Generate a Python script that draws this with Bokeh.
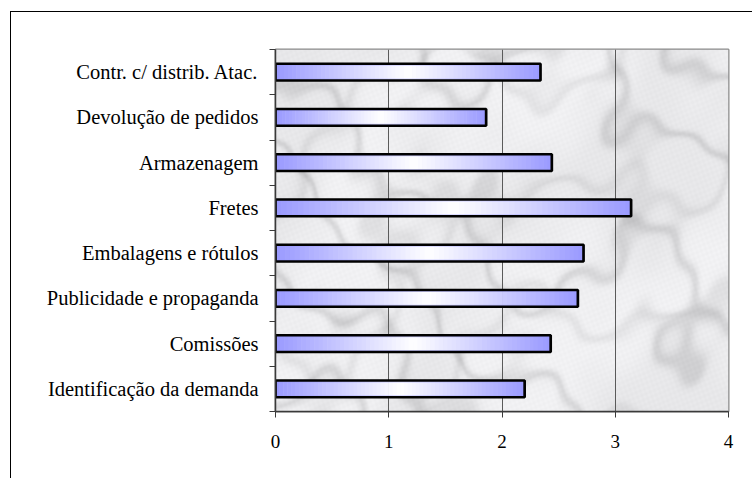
import numpy as np
from bokeh.plotting import figure
from bokeh.models import FixedTicker, Range1d, ColumnDataSource
from bokeh.embed import file_html
from bokeh.resources import INLINE

# Cost categories, listed bottom to top
categories = [
    "Identificação da demanda",
    "Comissões",
    "Publicidade e propaganda",
    "Embalagens e rótulos",
    "Fretes",
    "Armazenagem",
    "Devolução de pedidos",
    "Contr. c/ distrib. Atac.",
]
values = [2.20, 2.43, 2.67, 2.72, 3.14, 2.44, 1.86, 2.34]
x_ticks = [0, 1, 2, 3, 4]

FONT = "Liberation Serif"
BAR_H = 0.37
LAVENDER = (153, 153, 255)
N_SLICES = 64
X_MAX = 4
N_CAT = len(categories)

p = figure(
    width=742, height=467,
    x_range=Range1d(0, X_MAX), y_range=Range1d(0, N_CAT),
    output_backend="svg", toolbar_location=None,
    min_border_left=264, min_border_right=25,
    min_border_top=37, min_border_bottom=68,
)
# the chart sits inside a thin black frame
p.styles = {"margin-left": "11px", "margin-top": "12px",
            "outline": "1.5px solid black"}
p.background_fill_color = "#ececec"
p.border_fill_color = "white"
p.outline_line_color = "#8a8a8a"
p.outline_line_width = 2

# marble-like backdrop for the plotting area (smooth, deterministic veining)
W, H = 453, 362
gx, gy = np.meshgrid(np.arange(W, dtype=float), np.arange(H, dtype=float))
turb = (np.sin(gx * 0.013 - gy * 0.009 + 0.7) * 0.9
        + np.sin(gx * 0.029 + gy * 0.021 + 2.1) * 0.5
        + np.sin(gx * 0.061 - gy * 0.047 + 4.0) * 0.25
        + np.sin(gx * 0.11 + gy * 0.09 + 1.3) * 0.12)
phase = gx * 0.016 - gy * 0.024 + 1.6 * turb
streak = np.exp(-(np.sin(phase) / 0.28) ** 2)
phase2 = gx * 0.009 + gy * 0.019 + 1.1 * turb + 1.0
streak2 = np.exp(-(np.sin(phase2) / 0.22) ** 2)
blotch = 0.5 + 0.5 * np.sin(gx * 0.02 + gy * 0.015 + 1.5 * turb)
grain = (np.sin(gx * 0.9 + gy * 0.37) * np.sin(gx * 0.41 - gy * 0.83)) * 3
shade = 242 - 24 * streak - 14 * streak2 - 10 * blotch + grain
shade = np.clip(shade, 170, 246).astype(np.uint8)
img = np.empty((H, W), dtype=np.uint32)
view = img.view(dtype=np.uint8).reshape((H, W, 4))
view[:, :, 0] = shade
view[:, :, 1] = shade
view[:, :, 2] = np.clip(shade.astype(int) + 2, 0, 255).astype(np.uint8)
view[:, :, 3] = 255
p.image_rgba(image=[img[::-1]], x=0, y=0, dw=X_MAX, dh=N_CAT, level="image")

# vertical grid only
p.ygrid.visible = False
p.xgrid.ticker = FixedTicker(ticks=x_ticks)
p.xgrid.grid_line_color = "#5a5a5a"
p.xgrid.grid_line_width = 1
p.xgrid.level = "underlay"

# horizontal gradient inside each bar: lavender at the ends, white in the middle
lefts, rights, bottoms, tops, colors = [], [], [], [], []
for i, v in enumerate(values):
    yc = i + 0.5
    for k in range(N_SLICES):
        f0 = k / N_SLICES
        f1 = (k + 1) / N_SLICES
        fm = (f0 + f1) / 2
        t = abs(fm - 0.5) * 2
        r, g, b = (round(255 + (c - 255) * t) for c in LAVENDER)
        lefts.append(v * f0)
        rights.append(v * f1 + v * 0.002)
        bottoms.append(yc - BAR_H / 2)
        tops.append(yc + BAR_H / 2)
        colors.append("#%02x%02x%02x" % (r, g, b))

p.quad(left=lefts, right=rights, bottom=bottoms, top=tops,
       fill_color=colors, line_color=None)

src = ColumnDataSource(dict(y=[i + 0.5 for i in range(N_CAT)], right=values))
# faint lavender edge just inside the outline
p.hbar(y="y", left=0, right="right", height=BAR_H * 0.86, source=src,
       fill_color=None, line_color="#9999ff", line_alpha=0.45, line_width=1.5)
p.hbar(y="y", left=0, right="right", height=BAR_H, source=src,
       fill_color=None, line_color="black", line_width=2.7)

# x axis
p.xaxis.ticker = FixedTicker(ticks=x_ticks)
p.xaxis.major_label_overrides = {t: str(t) for t in x_ticks}
p.xaxis.axis_line_color = "#3a3a3a"
p.xaxis.axis_line_width = 1.5
p.xaxis.major_tick_line_color = "#3a3a3a"
p.xaxis.major_tick_out = 6
p.xaxis.major_tick_in = 0
p.xaxis.minor_tick_line_color = None
p.xaxis.major_label_standoff = 17

# y axis: labels at the bar centres, tick marks between categories
centres = [i + 0.5 for i in range(N_CAT)]
p.yaxis.ticker = FixedTicker(ticks=centres, minor_ticks=list(range(N_CAT + 1)))
p.yaxis.major_label_overrides = {c: name for c, name in zip(centres, categories)}
p.yaxis.axis_line_color = "#3a3a3a"
p.yaxis.axis_line_width = 1.5
p.yaxis.major_tick_line_color = None
p.yaxis.minor_tick_line_color = "#3a3a3a"
p.yaxis.minor_tick_out = 6
p.yaxis.minor_tick_in = 0
p.yaxis.major_label_standoff = 11

for ax in (p.xaxis, p.yaxis):
    ax.major_label_text_font = FONT
    ax.major_label_text_color = "black"
p.yaxis.major_label_text_font_size = "20.5px"
p.xaxis.major_label_text_font_size = "19px"

open("out.html", "w").write(file_html(p, INLINE))
